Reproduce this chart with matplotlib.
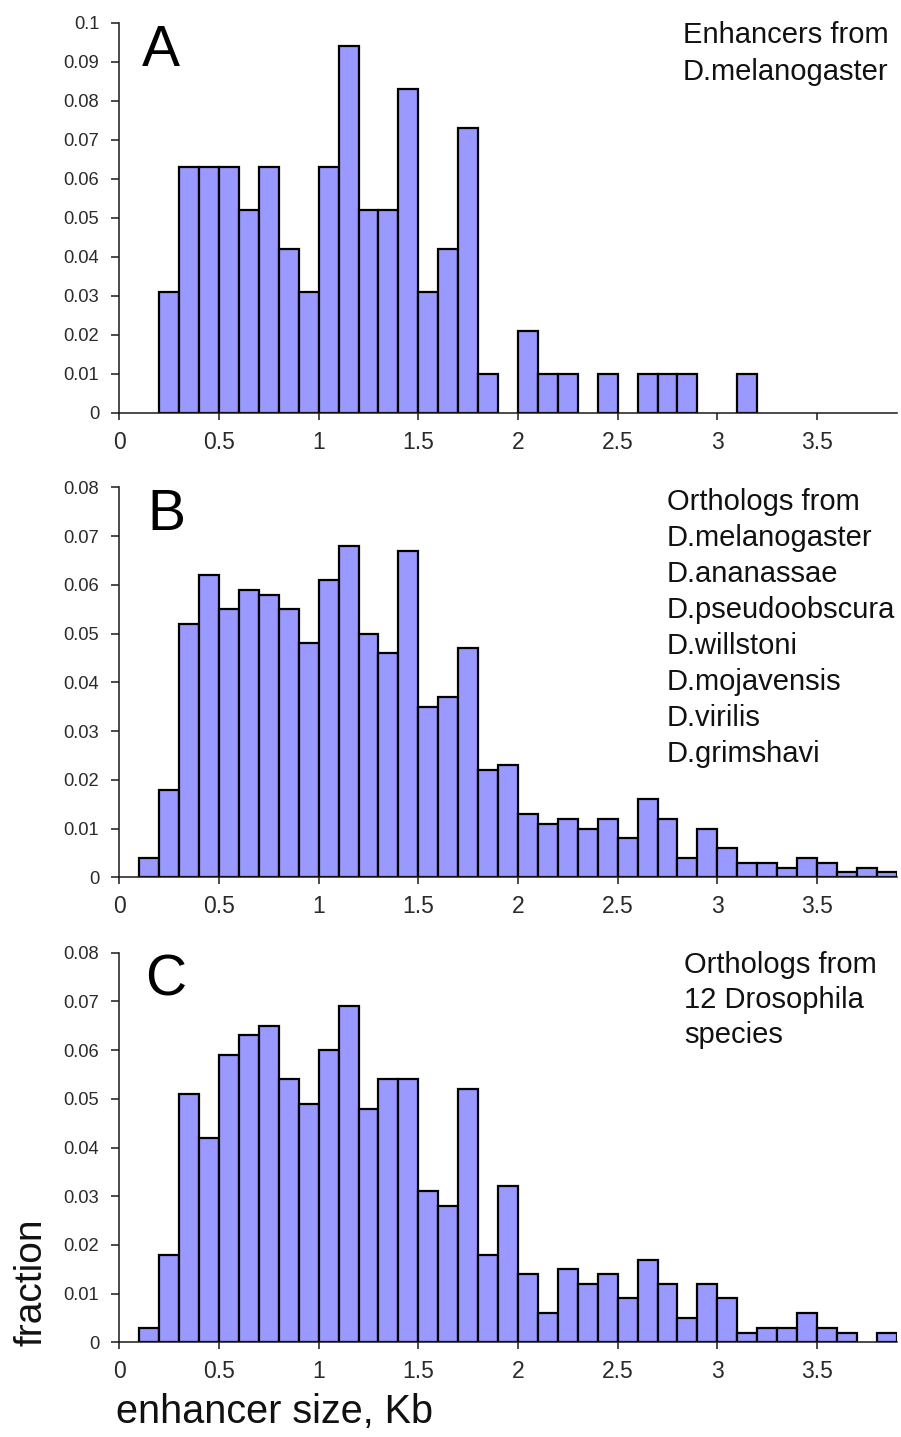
import numpy as np
import matplotlib
matplotlib.use("Agg")
import matplotlib.pyplot as plt
from matplotlib.ticker import FuncFormatter, MultipleLocator

# ---------------- data ----------------
bin_starts = np.round(np.arange(0.0, 3.85, 0.1), 1)  # 39 bins of 0.1 Kb, 0.0 .. 3.8

frac_A = [0, 0, 0.031, 0.063, 0.063, 0.063, 0.052, 0.063, 0.042, 0.031,
          0.063, 0.094, 0.052, 0.052, 0.083, 0.031, 0.042, 0.073, 0.010, 0,
          0.021, 0.010, 0.010, 0, 0.010, 0, 0.010, 0.010, 0.010, 0,
          0, 0.010, 0, 0, 0, 0, 0, 0, 0]

frac_B = [0, 0.004, 0.018, 0.052, 0.062, 0.055, 0.059, 0.058, 0.055, 0.048,
          0.061, 0.068, 0.050, 0.046, 0.067, 0.035, 0.037, 0.047, 0.022, 0.023,
          0.013, 0.011, 0.012, 0.010, 0.012, 0.008, 0.016, 0.012, 0.004, 0.010,
          0.006, 0.003, 0.003, 0.002, 0.004, 0.003, 0.001, 0.002, 0.001]

frac_C = [0, 0.003, 0.018, 0.051, 0.042, 0.059, 0.063, 0.065, 0.054, 0.049,
          0.060, 0.069, 0.048, 0.054, 0.054, 0.031, 0.028, 0.052, 0.018, 0.032,
          0.014, 0.006, 0.015, 0.012, 0.014, 0.009, 0.017, 0.012, 0.005, 0.012,
          0.009, 0.002, 0.003, 0.003, 0.006, 0.003, 0.002, 0, 0.002]

panel_letters = ["A", "B", "C"]
panel_notes = [
    ["Enhancers from", "D.melanogaster"],
    ["Orthologs from", "D.melanogaster", "D.ananassae", "D.pseudoobscura",
     "D.willstoni", "D.mojavensis", "D.virilis", "D.grimshavi"],
    ["Orthologs from", "12 Drosophila", "species"],
]
y_max = [0.1, 0.08, 0.08]
x_ticks = [0, 0.5, 1, 1.5, 2, 2.5, 3, 3.5]
x_label = "enhancer size, Kb"
y_label = "fraction"

# ---------------- layout ----------------
W, H = 901, 1437
fig = plt.figure(figsize=(W / 100, H / 100), dpi=100)
FONT = ["Liberation Sans", "DejaVu Sans"]

def fx(px):
    return px / W

def fy(py):
    return 1 - py / H

ax_left, ax_right = 119.3, 896.7
ax_px = [(22.7, 412.7), (487.3, 877.3), (952.7, 1342.3)]  # (top, bottom) pixel rows
letter_pos = [(142, 66.5), (147, 530), (145, 995)]
note_pos = [(683, 43.3, 36.7), (666.7, 510, 35.95), (684, 973.3, 35.0)]

bar_color = "#9999FF"
ink = "#1a1a1a"

for i, vals in enumerate([frac_A, frac_B, frac_C]):
    top, bot = ax_px[i]
    ax = fig.add_axes([fx(ax_left), fy(bot), fx(ax_right - ax_left), (bot - top) / H])
    v = np.array(vals, dtype=float)
    mask = v > 0
    ax.bar(bin_starts[mask], v[mask], width=0.1, align="edge",
           color=bar_color, edgecolor="black", linewidth=1.6, zorder=2)
    ax.set_xlim(0, 3.9)
    ax.set_ylim(0, y_max[i])
    for s in ["top", "right"]:
        ax.spines[s].set_visible(False)
    for s in ["left", "bottom"]:
        ax.spines[s].set_color(ink)
        ax.spines[s].set_linewidth(1.1)
        ax.spines[s].set_zorder(3)
    ax.set_xticks(x_ticks)
    ax.xaxis.set_major_formatter(FuncFormatter(lambda t, p: f"{t:g}"))
    ax.yaxis.set_major_locator(MultipleLocator(0.01))
    ax.yaxis.set_major_formatter(FuncFormatter(lambda t, p: "0" if abs(t) < 1e-9 else f"{round(t, 3):g}"))
    ax.tick_params(axis="y", direction="out", length=6, width=1.1, color=ink,
                   pad=8.5, labelsize=13.2, labelcolor="#2a2a2a")
    ax.tick_params(axis="x", direction="out", length=5, width=1.1, color=ink,
                   pad=8, labelsize=16.5, labelcolor="#2a2a2a")
    for lab in ax.get_xticklabels() + ax.get_yticklabels():
        lab.set_family(FONT)
    ax.set_facecolor("none")

    # panel letter
    lx, ly = letter_pos[i]
    fig.text(fx(lx), fy(ly), panel_letters[i], fontsize=41, family=FONT,
             ha="left", va="baseline", color="black")
    # annotation lines
    nx, ny, step = note_pos[i]
    for k, line in enumerate(panel_notes[i]):
        fig.text(fx(nx), fy(ny + k * step), line, fontsize=21, family=FONT,
                 ha="left", va="baseline", color="#111111")

# axis labels
fig.text(fx(42), fy(1282), y_label, rotation=90, rotation_mode="anchor",
         ha="center", va="baseline", fontsize=28, family=FONT, color="#111111")
fig.text(fx(275), fy(1423), x_label, ha="center", va="baseline",
         fontsize=28.5, family=FONT, color="#111111")

fig.savefig("out.png", dpi=100, facecolor="white")
